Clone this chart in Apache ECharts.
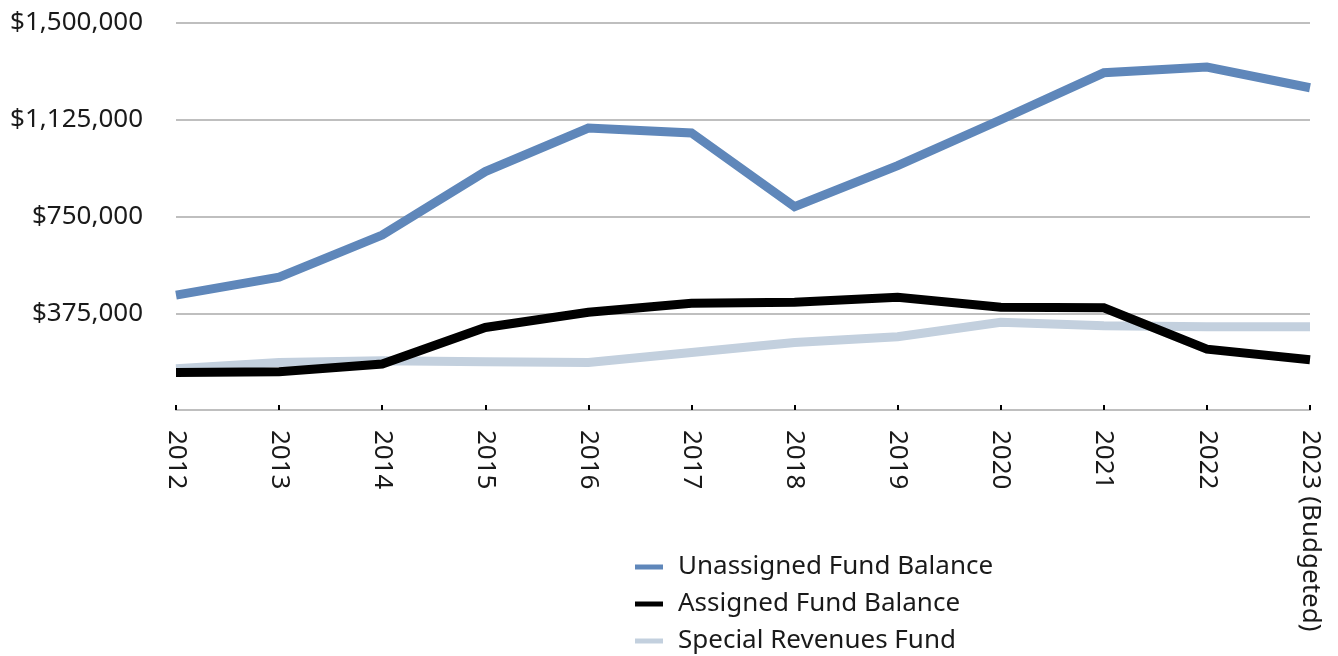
<!DOCTYPE html>
<html>
<head>
<meta charset="utf-8">
<script src="https://cdn.jsdelivr.net/npm/echarts@6/dist/echarts.min.js"></script>
<style>html,body{margin:0;padding:0;background:#fff}#c{width:1338px;height:656px}</style>
</head>
<body>
<div id="c"></div>
<script>
const categories = ['2012','2013','2014','2015','2016','2017','2018','2019','2020','2021','2022','2023 (Budgeted)'];
const unassigned = [445000,515000,678000,924000,1093000,1074000,788000,947000,1125000,1307000,1329000,1249000];
const assigned = [145000,148000,178000,320000,379000,414000,418000,437000,398000,396000,236000,195000];
const specialRevenues = [160000,184000,191000,187000,184000,223000,262000,284000,340000,327000,323000,323000];
const seriesNames = ['Unassigned Fund Balance','Assigned Fund Balance','Special Revenues Fund'];
const FONT = '"Noto Sans"';

const chart = echarts.init(document.getElementById('c'));
const mk = (name, data, color, z) => ({
  name, type: 'line', data, showSymbol: false, symbol: 'none', z,
  lineStyle: { color, width: 9, cap: 'butt', join: 'miter' }, itemStyle: { color },
  animation: false
});
const legendRow = (name, top) => ({
  orient: 'vertical', left: 635, top, padding: 0,
  icon: 'rect', itemWidth: 28, itemHeight: 5,
  textStyle: { fontFamily: FONT, fontSize: 26, lineHeight: 26, color: '#1a1a1a', padding: [0,0,0,10] },
  data: [name]
});
chart.setOption({
  animation: false,
  textStyle: { fontFamily: FONT },
  grid: { left: 176, right: 28, top: 23, bottom: 246, containLabel: false },
  legend: [legendRow(seriesNames[0], 554), legendRow(seriesNames[1], 591), legendRow(seriesNames[2], 628)],
  xAxis: {
    type: 'category', data: categories, boundaryGap: false,
    axisLine: { lineStyle: { color: '#bfbfbf', width: 2 } },
    axisTick: { inside: true, length: 5, alignWithLabel: true, lineStyle: { color: '#000', width: 2 } },
    axisLabel: { rotate: -90, margin: 20, fontSize: 26, color: '#1a1a1a', fontFamily: FONT, interval: 0 }
  },
  yAxis: {
    type: 'value', min: 0, max: 1500000, interval: 375000,
    axisLine: { show: false }, axisTick: { show: false },
    splitLine: { lineStyle: { color: '#bfbfbf', width: 2 } },
    axisLabel: {
      fontSize: 26, color: '#1a1a1a', margin: 33, fontFamily: FONT,
      formatter: v => v === 0 ? '' : '$' + v.toLocaleString('en-US')
    }
  },
  series: [
    mk(seriesNames[2], specialRevenues, '#c3d0de', 1),
    mk(seriesNames[1], assigned, '#000000', 2),
    mk(seriesNames[0], unassigned, '#5f87ba', 3)
  ]
});
</script>
</body>
</html>
